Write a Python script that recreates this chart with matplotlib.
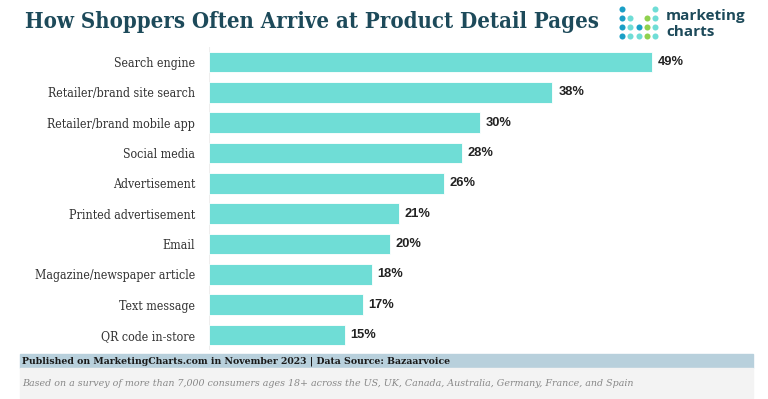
import matplotlib.pyplot as plt
import numpy as np

categories = ["Search engine", "Retailer/brand site search", "Retailer/brand mobile app",
              "Social media", "Advertisement", "Printed advertisement", "Email",
              "Magazine/newspaper article", "Text message", "QR code in-store"]
values = [49, 38, 30, 28, 26, 21, 20, 18, 17, 15]

BAR = "#6fddd6"
DARK = "#1d4a5a"

fig = plt.figure(figsize=(7.68, 3.99), dpi=100)

# axes placed so bars start at x=209px, rows centred 62..335px
top = 1 - (62 - 15.2) / 399
bottom = 1 - (335 + 15.2) / 399
ax = fig.add_axes([209 / 768, bottom, 497 / 768, top - bottom])
y = np.arange(len(categories))
ax.barh(y, values, height=0.68, color=BAR, edgecolor="white", linewidth=0.6)
ax.set_xlim(0, 55)
ax.set_ylim(len(categories) - 0.5, -0.5)
ax.set_yticks(y)
ax.set_yticklabels(categories, fontsize=8.9, family="DejaVu Serif",
                   fontstretch="condensed", color="#333333")
ax.tick_params(axis="y", length=0, pad=10)
ax.set_xticks([])
for s in ax.spines.values():
    s.set_visible(False)
ax.axvline(0, color="#eeeeee", lw=0.8, zorder=0)

for yi, v in zip(y, values):
    ax.text(v + 0.65, yi, f"{v}%", va="center", ha="left", fontsize=9.3,
            fontweight="bold", color="#222222", family="Liberation Sans")

# title
fig.text(25 / 768, 1 - 22 / 399, "How Shoppers Often Arrive at Product Detail Pages",
         fontsize=15.8, fontweight="bold", color=DARK, family="DejaVu Serif",
         fontstretch="condensed", va="center", ha="left")

# logo dots (5 cols x 4 rows)
lx = fig.add_axes([618 / 768, 1 - 40.5 / 399, 41 / 768, 36 / 399])
lx.set_xlim(-0.5, 4.5)
lx.set_ylim(-0.5, 3.5)
lx.axis("off")
B, T, G = "#1a9fc6", "#6fddd6", "#8fd14f"
dots = {
    (0, 3): B, (4, 3): T,
    (0, 2): B, (1, 2): T, (3, 2): G, (4, 2): T,
    (0, 1): B, (1, 1): T, (2, 1): B, (3, 1): G, (4, 1): T,
    (0, 0): B, (1, 0): T, (2, 0): T, (3, 0): G, (4, 0): T,
}
for (dx, dy), c in dots.items():
    lx.scatter(dx, dy, s=19, color=c, linewidths=0)
fig.text(666 / 768, 1 - 16 / 399, "marketing", fontsize=11, color=DARK,
         fontweight="bold", family="Open Sans", va="center", ha="left")
fig.text(666 / 768, 1 - 32 / 399, "charts", fontsize=11, color=DARK,
         fontweight="bold", family="Open Sans", va="center", ha="left")

# footer
fig.patches.append(plt.Rectangle((20 / 768, 1 - 368 / 399), 733 / 768, 14 / 399,
                                 transform=fig.transFigure, color="#b8d0dc", zorder=0))
fig.patches.append(plt.Rectangle((20 / 768, 1 - 398 / 399), 733 / 768, 30 / 399,
                                 transform=fig.transFigure, color="#f3f3f3", zorder=0))
fig.text(22 / 768, 1 - 361 / 399,
         "Published on MarketingCharts.com in November 2023 | Data Source: Bazaarvoice",
         fontsize=7.5, fontweight="bold", color="#1a1a1a", family="DejaVu Serif",
         fontstretch="condensed", va="center", ha="left")
fig.text(22 / 768, 1 - 383 / 399,
         "Based on a survey of more than 7,000 consumers ages 18+ across the US, UK, Canada, Australia, Germany, France, and Spain",
         fontsize=6.85, style="italic", color="#888888", family="DejaVu Serif",
         va="center", ha="left")

fig.savefig("out.png", dpi=100)
